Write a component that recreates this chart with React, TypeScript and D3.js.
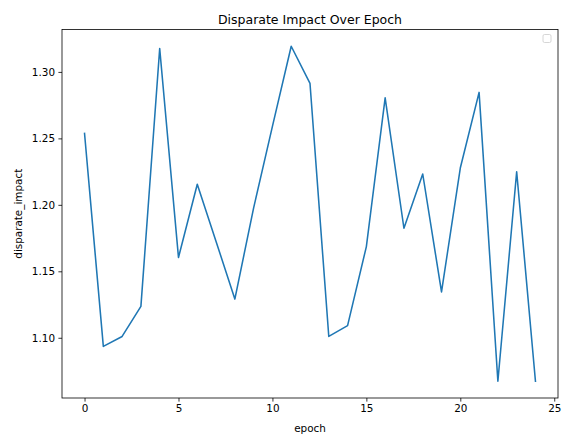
import React, { useEffect, useRef } from 'react';
import * as d3 from 'd3';

// disparate impact per training epoch
const epochs = [0, 1, 2, 3, 4, 5, 6, 7, 8, 9, 10, 11, 12, 13, 14, 15, 16, 17, 18, 19, 20, 21, 22, 23, 24];
const disparateImpact = [
  1.2537, 1.0935, 1.1010, 1.1236, 1.3176, 1.1604, 1.2155, 1.1725, 1.1291, 1.1977,
  1.2590, 1.3193, 1.2913, 1.1010, 1.1091, 1.1686, 1.2805, 1.1824, 1.2232, 1.1345,
  1.2277, 1.2846, 1.0673, 1.2249, 1.0673,
];
const xTicks = [0, 5, 10, 15, 20, 25];
const yTicks = [1.10, 1.15, 1.20, 1.25, 1.30];

const W = 566;
const H = 435;
const margin = { top: 29.5, right: 8, bottom: 37, left: 62 };
const font = '"DejaVu Sans", sans-serif';

export default function App() {
  const ref = useRef<SVGSVGElement>(null);

  useEffect(() => {
    const svg = d3.select(ref.current);
    svg.selectAll('*').remove();

    // matplotlib style 5% margins around the data
    const xPad = (d3.max(epochs)! - d3.min(epochs)!) * 0.05;
    const yMin = d3.min(disparateImpact)!;
    const yMax = d3.max(disparateImpact)!;
    const yPad = (yMax - yMin) * 0.05;

    const x = d3.scaleLinear()
      .domain([d3.min(epochs)! - xPad, d3.max(epochs)! + xPad])
      .range([margin.left, W - margin.right]);
    const y = d3.scaleLinear()
      .domain([yMin - yPad, yMax + yPad])
      .range([H - margin.bottom, margin.top]);

    const bottom = H - margin.bottom;

    // x axis
    const xAxis = svg.append('g')
      .attr('transform', `translate(0,${bottom})`)
      .call(d3.axisBottom(x).tickValues(xTicks).tickFormat(d3.format('d')).tickSize(3.6).tickPadding(3.4).tickSizeOuter(0));
    xAxis.select('.domain').remove();
    xAxis.selectAll('line').attr('stroke', '#000').attr('stroke-width', 0.8);
    xAxis.selectAll('text').attr('font-family', font).attr('font-size', 10.4).attr('fill', '#000');

    // y axis
    const yAxis = svg.append('g')
      .attr('transform', `translate(${margin.left},0)`)
      .call(d3.axisLeft(y).tickValues(yTicks).tickFormat(d3.format('.2f')).tickSize(3.6).tickPadding(3.4).tickSizeOuter(0));
    yAxis.select('.domain').remove();
    yAxis.selectAll('line').attr('stroke', '#000').attr('stroke-width', 0.8);
    yAxis.selectAll('text').attr('font-family', font).attr('font-size', 10.4).attr('fill', '#000');

    // the line
    const line = d3.line<number>()
      .x((_, i) => x(epochs[i]))
      .y(d => y(d));
    svg.append('path')
      .datum(disparateImpact)
      .attr('fill', 'none')
      .attr('stroke', '#1f77b4')
      .attr('stroke-width', 1.55)
      .attr('stroke-linejoin', 'round')
      .attr('stroke-linecap', 'square')
      .attr('d', line);

    // frame
    svg.append('rect')
      .attr('x', margin.left)
      .attr('y', margin.top)
      .attr('width', W - margin.right - margin.left)
      .attr('height', bottom - margin.top)
      .attr('fill', 'none')
      .attr('stroke', '#000')
      .attr('stroke-width', 0.8);

    // empty legend box
    svg.append('rect')
      .attr('x', 543)
      .attr('y', 34.5)
      .attr('width', 8)
      .attr('height', 8)
      .attr('rx', 1.5)
      .attr('fill', '#fff')
      .attr('stroke', '#ccc')
      .attr('stroke-width', 0.8);

    // title and labels
    svg.append('text')
      .attr('x', (margin.left + W - margin.right) / 2)
      .attr('y', 23.8)
      .attr('text-anchor', 'middle')
      .attr('font-family', font)
      .attr('font-size', 12.5)
      .text('Disparate Impact Over Epoch');

    svg.append('text')
      .attr('x', (margin.left + W - margin.right) / 2)
      .attr('y', 431.5)
      .attr('text-anchor', 'middle')
      .attr('font-family', font)
      .attr('font-size', 10.4)
      .text('epoch');

    svg.append('text')
      .attr('transform', `translate(22,${(margin.top + bottom) / 2}) rotate(-90)`)
      .attr('text-anchor', 'middle')
      .attr('font-family', font)
      .attr('font-size', 10.4)
      .text('disparate_impact');
  }, []);

  return (
    <svg ref={ref} width={W} height={H} style={{ position: 'absolute', left: 0, top: 0, background: '#fff' }} />
  );
}
